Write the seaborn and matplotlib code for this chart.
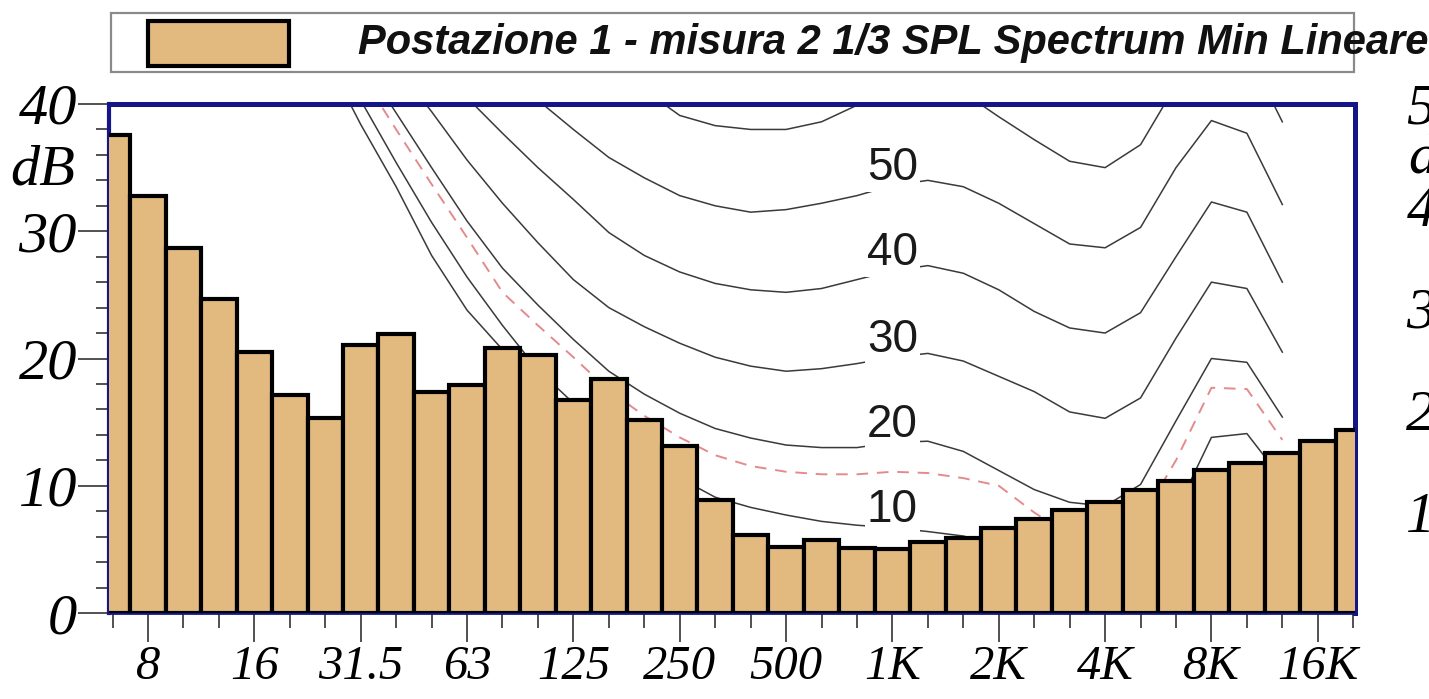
import numpy as np
import matplotlib
matplotlib.use("Agg")
import matplotlib.pyplot as plt
import matplotlib.transforms as mtransforms
from matplotlib.patches import Rectangle
import seaborn as sns

# ---------------- data ----------------
bands = ["6.3", "8", "10", "12.5", "16", "20", "25", "31.5", "40", "50", "63", "80",
         "100", "125", "160", "200", "250", "315", "400", "500", "630", "800", "1K",
         "1.25K", "1.6K", "2K", "2.5K", "3.15K", "4K", "5K", "6.3K", "8K", "10K",
         "12.5K", "16K", "20K"]
spl_min = [37.6, 32.8, 28.7, 24.7, 20.5, 17.1, 15.3, 21.1, 21.9, 17.4, 17.9, 20.8,
           20.3, 16.7, 18.4, 15.2, 13.1, 8.9, 6.1, 5.2, 5.7, 5.1, 5.0, 5.6,
           5.9, 6.7, 7.4, 8.1, 8.75, 9.7, 10.4, 11.2, 11.8, 12.6, 13.5, 14.4]
octave_labels = ["8", "16", "31.5", "63", "125", "250", "500", "1K", "2K", "4K", "8K", "16K"]
right_ticks = [10, 20, 30, 40, 50]
legend_label = "Postazione 1 - misura 2 1/3 SPL Spectrum Min Lineare"

# equal-loudness style contours (values in left-axis dB units), each starting at a band
curve_low_from = "25"
curve_low = [43.8, 38.4, 33.5, 28.1, 23.8, 20.7, 18.1, 15.6, 13.4, 11.4, 9.5, 7.2,
             4.8, 4.2, 3.5, 2.8, 2.3, 2.2, 1.9]
curve_10_from = "25"
curve_10 = [45.3, 40.3, 35.4, 30.7, 26.4, 22.6, 19.1, 16.5, 14.4, 12.4, 10.6, 9.1,
            8.3, 7.7, 7.2, 6.9, 6.7, 6.4, 6.05, 5.3, 4.5, 4.0, 4.2, 5.7, 8.0, 13.8,
            14.1, 10.5]
curve_thr_from = "31.5"
curve_thr = [42.4, 38.0, 33.7, 29.5, 25.2, 22.6, 20.1, 17.5, 15.5, 13.8, 12.4, 11.55,
             11.1, 10.9, 10.9, 11.1, 11.0, 10.6, 10.0, 7.9, 6.1, 5.7, 7.3, 12.0, 17.7,
             17.6, 13.6]
curve_20_from = "31.5"
curve_20 = [43.6, 39.3, 35.0, 30.8, 27.1, 24.2, 21.5, 19.0, 17.2, 15.7, 14.5, 13.75,
            13.2, 13.0, 13.0, 13.4, 13.5, 12.7, 11.2, 9.7, 8.7, 8.4, 10.1, 15.1, 20.0,
            19.7, 15.4]
curve_30_from = "40"
curve_30 = [43.0, 39.4, 35.6, 32.2, 29.1, 26.2, 24.0, 22.5, 21.2, 20.1, 19.4, 19.0,
            19.2, 19.6, 20.1, 20.4, 19.8, 18.6, 17.4, 15.8, 15.3, 16.9, 21.6, 26.0,
            25.5, 20.5]
curve_40_from = "50"
curve_40 = [43.5, 40.5, 37.7, 35.0, 32.5, 29.9, 28.1, 26.8, 25.9, 25.4, 25.2, 25.5,
            26.2, 26.9, 27.3, 26.7, 25.4, 23.7, 22.4, 22.0, 23.6, 28.0, 32.3, 31.5, 26.0]
curve_50_from = "80"
curve_50 = [42.0, 40.3, 38.0, 35.8, 34.2, 32.8, 32.0, 31.5, 31.7, 32.2, 32.8, 33.6,
            34.0, 33.5, 32.2, 30.6, 29.0, 28.7, 30.3, 35.0, 38.7, 37.7, 32.1]
curve_60_from = "160"
curve_60 = [43.5, 41.1, 39.1, 38.3, 38.0, 38.0, 38.6, 39.9, 41.0, 41.2, 40.9, 39.0,
            37.2, 35.5, 35.0, 36.8, 41.5, 45.0, 44.2, 38.6]

# ---------------- style ----------------
bar_color = "#E2B97F"
frame_color = "#15158A"
serif = "Liberation Serif"
sans = "Liberation Sans"

W, H = 1429, 699
fig = plt.figure(figsize=(W / 100, H / 100), dpi=100)
fig.patch.set_facecolor("white")
ax = fig.add_axes([109 / W, 86 / H, (1355 - 109) / W, (613 - 104) / H])

sns.barplot(x=bands, y=spl_min, order=bands, color=bar_color, saturation=1,
            edgecolor="black", linewidth=3.0, width=1.0, ax=ax, zorder=3)

def draw_curve(start, vals, **kw):
    i0 = bands.index(start)
    xs = np.arange(i0, i0 + len(vals))
    sns.lineplot(x=xs, y=vals, ax=ax, legend=False, sort=False, **kw)
    return i0

solid = dict(color="#3a3a3a", linewidth=1.1, zorder=1.5)
draw_curve(curve_low_from, curve_low, **solid)
draw_curve(curve_thr_from, curve_thr, color="#E58A8C", linewidth=1.4,
           linestyle=(0, (6, 4.5)), zorder=1.5)
ilab = bands.index("1K")
for start, vals, lab in [(curve_10_from, curve_10, "10"), (curve_20_from, curve_20, "20"),
                         (curve_30_from, curve_30, "30"), (curve_40_from, curve_40, "40"),
                         (curve_50_from, curve_50, "50"), (curve_60_from, curve_60, None)]:
    i0 = draw_curve(start, vals, **solid)
    if lab is not None:
        v = vals[ilab - i0]
        ax.text(ilab, v + 0.45, lab, ha="center", va="baseline", fontsize=33,
                family=sans, color="#1a1a1a", zorder=1.8,
                bbox=dict(facecolor="white", edgecolor="none", pad=1.5))

# axes limits and ticks
ax.set_xlim(-0.1, len(bands) - 0.95)
ax.set_ylim(0, 40)
major_idx = [bands.index(l) for l in octave_labels]
minor_idx = [i for i in range(len(bands)) if i not in major_idx]
ax.set_xticks(major_idx)
ax.set_xticklabels(octave_labels)
ax.set_xticks(minor_idx, minor=True)
ax.set_yticks([0, 10, 20, 30, 40])
ax.set_yticks([v for v in range(2, 40, 2) if v % 10], minor=True)
ax.set_xlabel("")
ax.set_ylabel("")
ax.grid(False)

for lab in ax.get_xticklabels():
    lab.set_fontfamily(serif); lab.set_fontstyle("italic"); lab.set_fontsize(35)
for lab in ax.get_yticklabels():
    lab.set_fontfamily(serif); lab.set_fontstyle("italic"); lab.set_fontsize(42)

ax.tick_params(axis="y", which="major", length=22, width=1.1, pad=1, color="#222222")
ax.tick_params(axis="y", which="minor", length=9.5, width=1.1, color="#222222")
ax.tick_params(axis="x", which="major", length=21, width=1.1, pad=2, color="#222222")
ax.tick_params(axis="x", which="minor", length=11, width=1.1, color="#222222")

for side, lw in [("top", 3.6), ("right", 3.6), ("left", 3.0), ("bottom", 2.0)]:
    ax.spines[side].set_visible(True)
    ax.spines[side].set_color(frame_color)
    ax.spines[side].set_linewidth(lw)

trans_l = mtransforms.blended_transform_factory(ax.transAxes, ax.transData)
ax.text(-0.0273, 34.8, "dB", transform=trans_l, ha="right", va="center",
        fontsize=42, family=serif, style="italic")

# right axis (labels cut by the figure edge, as in the source)
ax2 = ax.twinx()
ax2.set_ylim(0, 50)
ax2.set_yticks(right_ticks)
ax2.set_yticklabels([str(t) for t in right_ticks])
for lab in ax2.get_yticklabels():
    lab.set_fontfamily(serif); lab.set_fontstyle("italic"); lab.set_fontsize(42)
ax2.tick_params(axis="y", length=0, pad=37)
for s in ax2.spines.values():
    s.set_visible(False)
trans_r = mtransforms.blended_transform_factory(ax2.transAxes, ax2.transData)
ax2.text(1.0425, 44.6, "dB", transform=trans_r, ha="left", va="center",
         fontsize=42, family=serif, style="italic")

# legend box
fig.patches.append(Rectangle((111 / W, (H - 72) / H), 1243 / W, 59 / H,
                             transform=fig.transFigure, facecolor="white",
                             edgecolor="#8a8a8a", linewidth=1.6))
fig.patches.append(Rectangle((148 / W, (H - 66) / H), 141 / W, 45 / H,
                             transform=fig.transFigure, facecolor=bar_color,
                             edgecolor="black", linewidth=3.0))
fig.text(358 / W, (H - 43) / H, legend_label, ha="left", va="center", fontsize=30,
         fontweight="bold", style="italic", family=sans, color="#111111")

fig.savefig("out.png", dpi=100)
